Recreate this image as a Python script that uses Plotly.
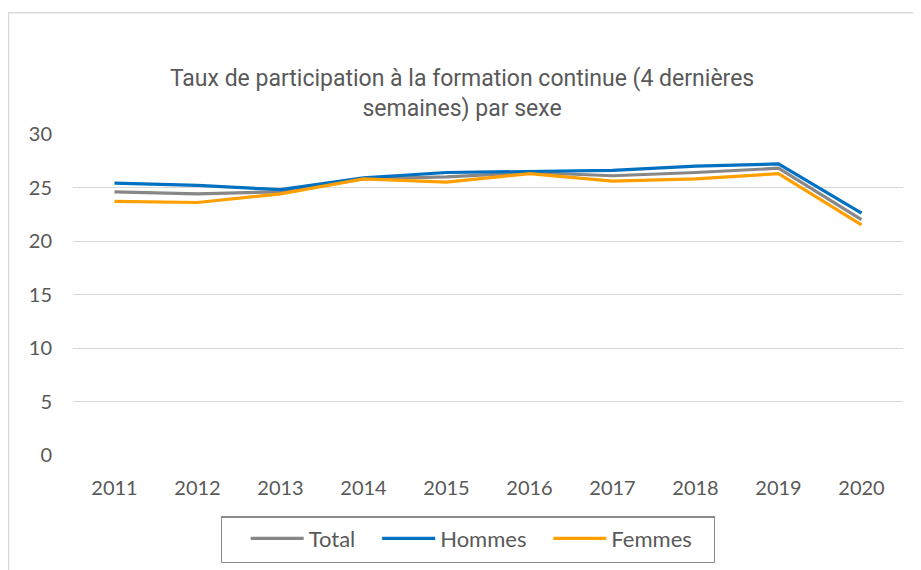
import plotly.graph_objects as go

years = ["2011", "2012", "2013", "2014", "2015", "2016", "2017", "2018", "2019", "2020"]
total = [24.6, 24.4, 24.6, 25.8, 26.0, 26.4, 26.1, 26.4, 26.8, 22.0]
hommes = [25.4, 25.2, 24.8, 25.9, 26.4, 26.5, 26.6, 27.0, 27.2, 22.6]
femmes = [23.7, 23.6, 24.4, 25.8, 25.5, 26.3, 25.6, 25.8, 26.3, 21.5]
y_ticks = [0, 5, 10, 15, 20, 25, 30]

fig = go.Figure()
for name, vals, col, pad in [("Total", total, "#878787", 3),
                             ("Hommes", hommes, "#0070c0", 3),
                             ("Femmes", femmes, "#ff9f00", 3)]:
    fig.add_trace(go.Scatter(x=years, y=vals, name=name + "\u00a0" * pad, mode="lines",
                             line=dict(color=col, width=3.2)))

fig.update_layout(
    width=921, height=570,
    margin=dict(l=65, r=26, t=126, b=122.5, autoexpand=False),
    paper_bgcolor="white", plot_bgcolor="white",
    font=dict(family="Lato, Open Sans, sans-serif", color="#595959", size=18),
    title=dict(text="Taux de participation à la formation continue (4 dernières<br>semaines) par sexe",
               x=0.493, xanchor="center", y=0.863, yanchor="middle",
               font=dict(family="Roboto, sans-serif", size=23, color="#595959")),
    showlegend=True,
    legend=dict(orientation="h", x=0.476, xanchor="center", y=-0.191, yanchor="top",
                bordercolor="#8a8a8a", borderwidth=1.3, font=dict(size=22, color="#595959"),
                title=dict(text="\u00a0" * 2, side="left"),
                itemwidth=53, traceorder="normal"),
    shapes=[dict(type="rect", xref="paper", yref="paper",
                 x0=-0.0777, x1=1.06, y0=-0.5, y1=1.378,
                 line=dict(color="#d9d9d9", width=1.5), fillcolor="rgba(0,0,0,0)", layer="below")],
)
fig.update_xaxes(type="category", range=[-0.5, 9.5], showgrid=False, showline=False, zeroline=False,
                 ticks="outside", ticklen=15, tickcolor="rgba(0,0,0,0)",
                 tickfont=dict(size=20, color="#595959"))
fig.update_yaxes(range=[0, 30], tickvals=y_ticks, showgrid=True, gridcolor="#d9d9d9",
                 gridwidth=1.3, zeroline=False, showline=False,
                 ticks="outside", ticklen=16, tickcolor="rgba(0,0,0,0)",
                 tickfont=dict(size=20, color="#595959"))

fig.write_html("out.html")
